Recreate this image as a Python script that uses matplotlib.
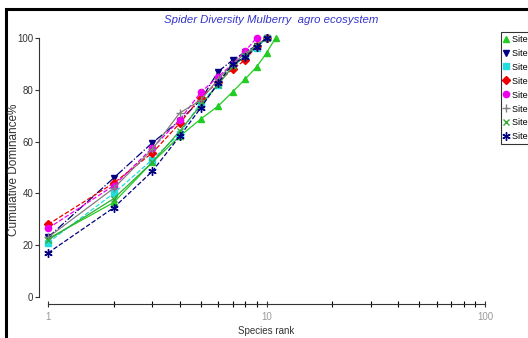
import matplotlib
matplotlib.use("Agg")
import matplotlib.pyplot as plt
from matplotlib.patches import Rectangle
import numpy as np

plt.rcParams['font.family'] = ['Liberation Sans', 'DejaVu Sans']

title = "Spider Diversity Mulberry  agro ecosystem"
xlabel = "Species rank"
ylabel = "Cumulative Dominance%"
site_names = ["Site 1", "Site 2", "Site 3", "Site 4", "Site 5", "Site 6", "Site 7", "Site 8"]

site1 = [22.5, 36.5, 52, 62, 68.7, 73.7, 79.2, 84.2, 88.8, 94.2, 100]
site2 = [23, 46, 59.5, 68, 76, 87, 91.5, 94.6, 97, 100]
site3 = [21, 40, 53, 63, 75, 82, 89, 93, 96, 100]
site4 = [28, 44, 55.6, 67, 77, 83, 88, 91.5, 97, 100]
site5 = [26.5, 43, 57.5, 68.3, 79, 85, 90, 95, 100]
site6 = [23, 42, 57, 71, 76, 84, 90, 94, 97, 100]
site7 = [22, 38, 52, 64, 74, 82, 89, 93, 97, 100]
site8 = [17, 34.5, 48.5, 62, 73, 82.6, 90, 92.7, 96.5, 100]

series = [site1, site2, site3, site4, site5, site6, site7, site8]
colors = ["#22cc22", "#000080", "#22dddd", "#ee0000", "#ee00ee", "#808080", "#33aa33", "#000080"]
markers = ["^", "v", "s", "D", "o", "+", "x", (6, 2, 0)]
sizes = [5, 5, 4.5, 4, 4.5, 6, 5, 6]
styles = ["-", "-.", "--", "--", "--", "-", "-", "--"]

fig = plt.figure(figsize=(5.28, 3.38), dpi=100)
W, H = 528, 338
ax = fig.add_axes([48 / W, (H - 297) / H, 437 / W, 259 / H])

for name, vals, c, m, ms, ls in zip(site_names, series, colors, markers, sizes, styles):
    ranks = np.arange(1, len(vals) + 1)
    ax.plot(ranks, vals, color=c, marker=m, linestyle=ls, linewidth=0.9,
            markersize=ms, label=name, clip_on=False)

ax.set_xscale('log')
ax.set_xlim(1, 100)
ax.set_ylim(0, 100)
ax.set_yticks([0, 20, 40, 60, 80, 100])
ax.set_xticks([1, 10, 100])
ax.set_xticklabels(["1", "10", "100"])
ax.xaxis.set_minor_locator(matplotlib.ticker.LogLocator(base=10, subs=np.arange(2, 10)))
ax.xaxis.set_minor_formatter(matplotlib.ticker.NullFormatter())

for s in ['top', 'right']:
    ax.spines[s].set_visible(False)
ax.spines['left'].set_position(('outward', 6.5))
ax.spines['bottom'].set_position(('outward', 5))
ax.spines['left'].set_bounds(0, 100)
ax.spines['bottom'].set_bounds(1, 100)
ax.spines['left'].set_color('#333333')
ax.spines['bottom'].set_color('#333333')

ax.tick_params(axis='y', direction='out', length=3, width=0.8, labelsize=7, colors='#333333', pad=1)
ax.tick_params(axis='x', which='both', direction='inout', length=5, width=0.8, labelsize=7, pad=3)
ax.tick_params(axis='x', labelcolor='#999999', colors='#333333')

ax.set_xlabel(xlabel, fontsize=7, color='#333333', labelpad=3)
fig.text(14 / W, 1 - 170 / H, ylabel, rotation=90, ha='center', va='center',
         fontsize=8.5, color='#333333')

fig.text(271 / W, 1 - 20 / H, title, ha='center', va='center', fontsize=8.2,
         style='italic', color='#3333cc')

leg = fig.legend(loc='upper left', bbox_to_anchor=(501 / W, 1 - 32 / H), fontsize=6.5,
                 frameon=True, fancybox=False, edgecolor='black', borderpad=0.3,
                 handlelength=0.6, handletextpad=0.3, labelspacing=0.55, borderaxespad=0)
leg.get_frame().set_linewidth(0.8)
for h in leg.legend_handles:
    h.set_linestyle('None')

fig.patches.append(Rectangle((6 / W, -0.1), 1.2, 1 - 9 / H + 0.1, transform=fig.transFigure,
                             fill=False, edgecolor='black', linewidth=2.2))

fig.savefig("out.png", dpi=100)
